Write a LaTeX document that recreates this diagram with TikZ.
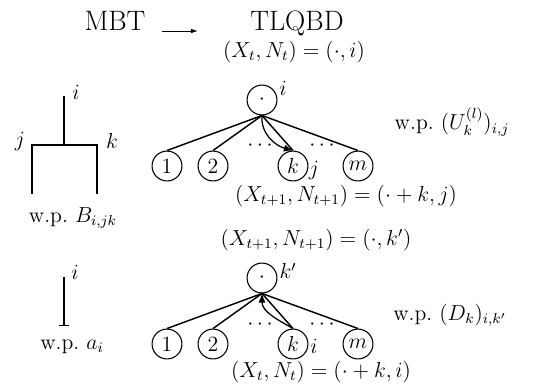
\documentclass[tikz,border=0pt]{standalone}
\usetikzlibrary{arrows.meta}
\begin{document}
\begin{tikzpicture}[x=0.552pt,y=-0.552pt,
  font=\fontsize{12pt}{14pt}\selectfont,
  st/.style={circle,draw,line width=0.6pt,minimum size=16.5pt,inner sep=0pt},
  lbl/.style={inner sep=0pt},
  ttl/.style={inner sep=0pt,font=\fontsize{15.5pt}{18pt}\selectfont},
  edge/.style={line width=0.8pt},
  tree/.style={line width=0.6pt},
  curv/.style={line width=0.7pt,-{Latex[length=5pt,width=4pt]}}]
\useasboundingbox (0,0) rectangle (543,385);
% title
\node[ttl,anchor=base] (mbt) at (115,30) {MBT};
\node[ttl,anchor=base] (tlqbd) at (297,30) {TLQBD};
\coordinate (a1) at (162,31);
\coordinate (a2) at (198,31);
\draw[line width=0.5pt,-{Latex[length=4pt,width=2.6pt]}] (a1) -- (a2);

% ---- top: MBT tree
\coordinate (t0) at (64,96);
\coordinate (t1) at (64,145);
\coordinate (tl) at (32,145);
\coordinate (tr) at (97,145);
\coordinate (tlb) at (32,194);
\coordinate (trb) at (97,194);
\draw[tree] (t0) -- (t1);
\draw[tree] (tlb) -- (tl) -- (tr) -- (trb);
\node[lbl] (ti) at (76,92) {$i$};
\node[lbl] (tj) at (20,141) {$j$};
\node[lbl] (tk) at (112,141) {$k$};
\node[lbl] (wpb) at (73,218) {w.p.\ $B_{i,jk}$};

% ---- top: TLQBD
\node[lbl] (s1) at (294,52) {$(X_t,N_t)=(\cdot,i)$};
\node[st] (r1) at (262,100) {$\cdot$};
\node[lbl] (r1i) at (283,88) {$i$};
\node[st] (c11) at (167,166) {$1$};
\node[st] (c12) at (213,166) {$2$};
\node[st] (c1k) at (293,166) {$k$};
\node[st] (c1m) at (358,166) {$m$};
\node[lbl] (d11) at (260,146) {$\cdots$};
\node[lbl] (d12) at (322,146) {$\cdots$};
\node[lbl] (c1j) at (314,170) {$j$};
\foreach \c in {c11,c12,c1k,c1m} \draw[edge] (r1.south) -- (\c.north);
\draw[curv] (r1.south) to[out=-95,in=165] (c1k.north);
\node[lbl] (s2) at (346,196) {$(X_{t+1},N_{t+1})=(\cdot+k,j)$};
\node[lbl] (wp1) at (452,122) {w.p.\ $(U_k^{(l)})_{i,j}$};

% ---- bottom: MBT leaf
\coordinate (b0) at (64,277);
\coordinate (b1) at (64,326);
\draw[tree,-{Bar[width=5.5pt]}] (b0) -- (b1);
\node[lbl] (bi) at (75,272) {$i$};
\node[lbl] (wpa) at (72,347) {w.p.\ $a_i$};

% ---- bottom: TLQBD
\node[lbl] (s3) at (316,240) {$(X_{t+1},N_{t+1})=(\cdot,k')$};
\node[st] (r2) at (262,278) {$\cdot$};
\node[lbl] (r2k) at (288,271) {$k'$};
\node[st] (c21) at (167,344) {$1$};
\node[st] (c22) at (213,344) {$2$};
\node[st] (c2k) at (293,344) {$k$};
\node[st] (c2m) at (358,344) {$m$};
\node[lbl] (d21) at (260,325) {$\cdots$};
\node[lbl] (d22) at (322,325) {$\cdots$};
\node[lbl] (c2i) at (314,346) {$i$};
\foreach \c in {c21,c22,c2k,c2m} \draw[edge] (r2.south) -- (\c.north);
\draw[curv] (c2k.north) to[out=150,in=-90] (r2.south);
\node[lbl] (wp2) at (450,315) {w.p.\ $(D_k)_{i,k'}$};
\node[lbl] (s4) at (321,372) {$(X_t,N_t)=(\cdot+k,i)$};
\end{tikzpicture}
\end{document}
